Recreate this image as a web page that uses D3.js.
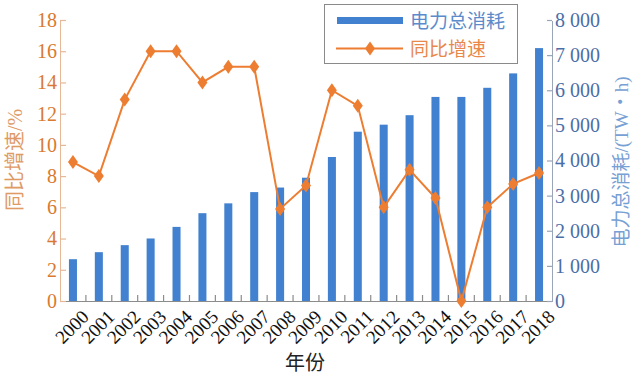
<!DOCTYPE html>
<html>
<head>
<meta charset="utf-8">
<script src="https://cdn.jsdelivr.net/npm/d3@7"></script>
<style>
  body { margin: 0; background: #fff; }
  svg { display: block; }
  svg text { font-family: "Liberation Serif", "Noto Sans CJK SC", serif; }
  .domain { shape-rendering: crispEdges; }
</style>
</head>
<body>
<div id="chart"></div>
<script>
// data
var years = ["2000","2001","2002","2003","2004","2005","2006","2007","2008","2009",
  "2010","2011","2012","2013","2014","2015","2016","2017","2018"];
// 电力总消耗, TW·h
var consumption = [1190, 1390, 1590, 1780, 2110, 2500, 2780, 3100, 3230, 3510,
  4100, 4820, 5020, 5290, 5810, 5810, 6070, 6480, 7200];
// 同比增速, %
var growth = [8.9, 8.0, 12.9, 16.0, 16.0, 14.0, 15.0, 15.0, 5.9, 7.4,
  13.5, 12.5, 6.0, 8.4, 6.6, 0, 6.0, 7.5, 8.2];
var leftTicks = [0, 2, 4, 6, 8, 10, 12, 14, 16, 18];
var rightTicks = [0, 1000, 2000, 3000, 4000, 5000, 6000, 7000, 8000];

var width = 640, height = 378;
var margins = { top: 20, right: 88, bottom: 77, left: 60 };
var chartWidth = width - margins.left - margins.right;
var chartHeight = height - margins.top - margins.bottom;

var barColor = "#4181cf";
var lineColor = "#ed7d31";

var svg = d3.select("#chart").append("svg")
  .attr("width", width)
  .attr("height", height);

var chart = svg.append("g")
  .attr("transform", `translate(${margins.left},${margins.top})`);

var xScale = d3.scaleBand().domain(years).range([0, chartWidth]);
var yLeft = d3.scaleLinear().domain([0, 18]).range([chartHeight, 0]);
var yRight = d3.scaleLinear().domain([0, 8000]).range([chartHeight, 0]);

var barWidth = xScale.bandwidth() * 0.31;

// bars
chart.append("g").selectAll("rect")
  .data(years)
  .enter().append("rect")
  .attr("x", (d, i) => xScale(d) + (xScale.bandwidth() - barWidth) / 2)
  .attr("y", (d, i) => yRight(consumption[i]))
  .attr("width", barWidth)
  .attr("height", (d, i) => chartHeight - yRight(consumption[i]))
  .attr("fill", barColor);

// x axis
var xAxis = d3.axisBottom(xScale).tickSize(0).tickPadding(0);
var xg = chart.append("g")
  .attr("transform", `translate(0,${chartHeight})`)
  .call(xAxis)
  .attr("font-family", null);
xg.select(".domain").attr("stroke", "#8c8c8c").attr("stroke-width", 1.3);
xg.selectAll("text")
  .attr("fill", "#111")
  .attr("font-size", 19)
  .attr("text-anchor", "end")
  .attr("dy", 0)
  .attr("transform", `translate(${xScale.bandwidth() / 2 + 4},17) rotate(-45)`);

// boundary ticks between categories
chart.append("g").selectAll("line")
  .data(years.slice(1))
  .enter().append("line")
  .attr("x1", d => xScale(d))
  .attr("x2", d => xScale(d))
  .attr("y1", chartHeight)
  .attr("y2", chartHeight - 6)
  .attr("stroke", "#8c8c8c")
  .attr("stroke-width", 1.2);

// left axis
var leftAxis = d3.axisLeft(yLeft)
  .tickValues(leftTicks)
  .tickSizeInner(-6)
  .tickSizeOuter(0)
  .tickPadding(3);
var lg = chart.append("g").call(leftAxis).attr("font-family", null);
lg.select(".domain").attr("stroke", "#e6b895").attr("stroke-width", 1.3);
lg.selectAll(".tick line").attr("stroke", "#e6b895").attr("stroke-width", 1.2);
lg.selectAll("text").attr("fill", "#d97a30").attr("font-size", 20);

// right axis
var fmt = d => d === 0 ? "0" : d3.format(",")(d).replace(",", " ");
var rightAxis = d3.axisRight(yRight)
  .tickValues(rightTicks)
  .tickSizeInner(-5)
  .tickSizeOuter(0)
  .tickPadding(3)
  .tickFormat(fmt);
var rg = chart.append("g")
  .attr("transform", `translate(${chartWidth},0)`)
  .call(rightAxis)
  .attr("font-family", null);
rg.select(".domain").attr("stroke", "#9aa6b8").attr("stroke-width", 1.3);
rg.selectAll(".tick line").attr("stroke", "#9aa6b8").attr("stroke-width", 1.2);
rg.selectAll("text").attr("fill", "#4a6fa8").attr("font-size", 20);

// growth line
var cx = d => xScale(d) + xScale.bandwidth() / 2;
var line = d3.line()
  .x((d, i) => cx(years[i]))
  .y(d => yLeft(d));

chart.append("path")
  .datum(growth)
  .attr("d", line)
  .attr("fill", "none")
  .attr("stroke", lineColor)
  .attr("stroke-width", 2);

var diamond = "M0,-7L5,0L0,7L-5,0Z";
chart.append("g").selectAll("path")
  .data(growth)
  .enter().append("path")
  .attr("d", diamond)
  .attr("transform", (d, i) => `translate(${cx(years[i])},${yLeft(d)})`)
  .attr("fill", lineColor);

// axis titles
svg.append("text")
  .attr("transform", "translate(22,160) rotate(-90)")
  .attr("text-anchor", "middle")
  .attr("font-size", 20)
  .attr("fill", "#e09a66")
  .text("同比增速/%");

svg.append("text")
  .attr("transform", "translate(628,162) rotate(-90)")
  .attr("text-anchor", "middle")
  .attr("font-size", 19)
  .attr("fill", "#77a0d4")
  .text("电力总消耗/(TW・h)");

svg.append("text")
  .attr("x", 305)
  .attr("y", 370)
  .attr("text-anchor", "middle")
  .attr("font-size", 20)
  .attr("fill", "#222")
  .text("年份");

// legend
var legend = svg.append("g").attr("transform", "translate(324,4)");
legend.append("rect")
  .attr("x", 0.5).attr("y", 0.5)
  .attr("width", 193).attr("height", 59)
  .attr("fill", "#fff")
  .attr("stroke", "#8a8a8a");
legend.append("rect")
  .attr("x", 13).attr("y", 13)
  .attr("width", 66).attr("height", 7)
  .attr("fill", barColor);
legend.append("text")
  .attr("x", 86).attr("y", 24)
  .attr("font-size", 19)
  .attr("fill", "#5b8bcb")
  .text("电力总消耗");
legend.append("line")
  .attr("x1", 12).attr("x2", 79)
  .attr("y1", 44.5).attr("y2", 44.5)
  .attr("stroke", lineColor)
  .attr("stroke-width", 2);
legend.append("path")
  .attr("d", diamond)
  .attr("transform", "translate(46,44.5)")
  .attr("fill", lineColor);
legend.append("text")
  .attr("x", 86).attr("y", 52)
  .attr("font-size", 19)
  .attr("fill", "#e9884a")
  .text("同比增速");
</script>
</body>
</html>
